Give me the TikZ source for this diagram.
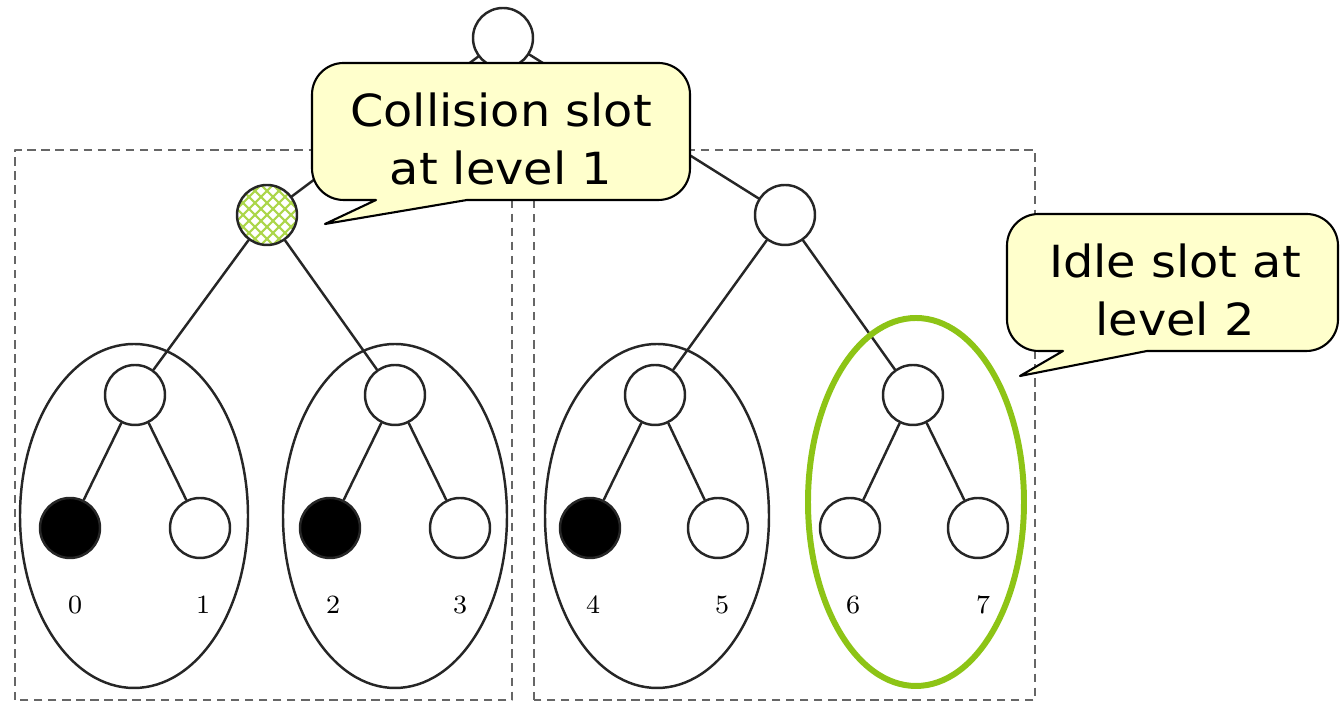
\documentclass[tikz,border=0pt]{standalone}
\usepackage{fontspec}
\newfontfamily\balloonfont[FakeStretch=1.08]{DejaVu Sans}
\definecolor{idlegreen}{RGB}{141,196,22}
\definecolor{hatchgreen}{RGB}{172,214,74}
\definecolor{balloon}{RGB}{255,255,204}

\begin{document}
\begin{tikzpicture}[line join=round, line cap=round,
	slot/.style={circle, draw=black!85, line width=.7pt, minimum size=.6cm, inner sep=0pt},
	hit/.style={slot, fill=black},
	edge/.style={draw=black!85, line width=.7pt},
	frame/.style={draw=black!60, line width=.5pt, line cap=butt, dash pattern=on 2.4pt off 1.6pt},
	bubble/.style={draw=black, fill=balloon, line width=.6pt},
	note/.style={font=\balloonfont\fontsize{12.6}{16.4}\selectfont, align=center, inner sep=0pt},
	slotid/.style={font=\fontsize{7.5}{8}\selectfont, inner sep=0pt}]
		\useasboundingbox (0,0) rectangle (13.44,7.05);
		% the two halves of the tree
		\draw[frame] (.15,.05) rectangle (5.12,5.55);
		\draw[frame] (5.34,.05) rectangle (10.35,5.55);
		% crosshatch of the collided slot
		\begin{scope}[shift={(2.67,4.90)}]
		\clip (0,0) circle (.3);
		\foreach \d in {-.72,-.6,...,.72}
		\draw[hatchgreen, line width=.6pt] (\d-.4,-.4) -- ++(.8,.8) (\d+.4,-.4) -- ++(-.8,.8);
		\end{scope}
		% slots
		\node[slot] (root) at (5.03,6.67) {};
		\node[slot] (n0) at (2.67,4.90) {};
		\node[slot] (n1) at (7.85,4.90) {};
		\node[slot] (n00) at (1.35,3.10) {};
		\node[slot] (n01) at (3.95,3.10) {};
		\node[slot] (n10) at (6.55,3.10) {};
		\node[slot] (n11) at (9.13,3.10) {};
		\foreach \k/\x/\st in {0/.70/hit,1/2.00/slot,2/3.30/hit,3/4.60/slot,4/5.90/hit,5/7.18/slot,6/8.50/slot,7/9.78/slot}
		\node[\st] (s\k) at (\x,1.77) {};
		\foreach \k/\x in {0/.75,1/2.03,2/3.33,3/4.60,4/5.93,5/7.22,6/8.53,7/9.83}
		\node[slotid] (id\k) at (\x,1.0) {\k};
		\foreach \a/\b in {root/n0,root/n1,n0/n00,n0/n01,n1/n10,n1/n11,n00/s0,n00/s1,n01/s2,n01/s3,n10/s4,n10/s5,n11/s6,n11/s7}
		\draw[edge] (\a) -- (\b);
		% groups at level 2
		\draw[edge] (1.34,1.89) ellipse (1.14 and 1.72);
		\draw[edge] (3.95,1.89) ellipse (1.12 and 1.72);
		\draw[edge] (6.57,1.89) ellipse (1.12 and 1.72);
		\draw[idlegreen, line width=1.7pt] (9.16,2.03) ellipse (1.08 and 1.84);
		% balloons
		\draw[bubble] (4.67,5.05) [rounded corners=9pt] -- (6.90,5.05) -- (6.90,6.42) -- (3.12,6.42) -- (3.12,5.05) [sharp corners] -- (3.76,5.05) -- (3.25,4.81) -- cycle;
		\node[note] (collnote) at (5.01,5.66) {Collision slot\\at level 1};
		\draw[bubble] (11.47,3.54) [rounded corners=9pt] -- (13.38,3.54) -- (13.38,4.91) -- (10.07,4.91) -- (10.07,3.54) [sharp corners] -- (10.63,3.54) -- (10.20,3.29) -- cycle;
		\node[note] (idlenote) at (11.75,4.15) {Idle slot at\\level 2};
\end{tikzpicture}
\end{document}
